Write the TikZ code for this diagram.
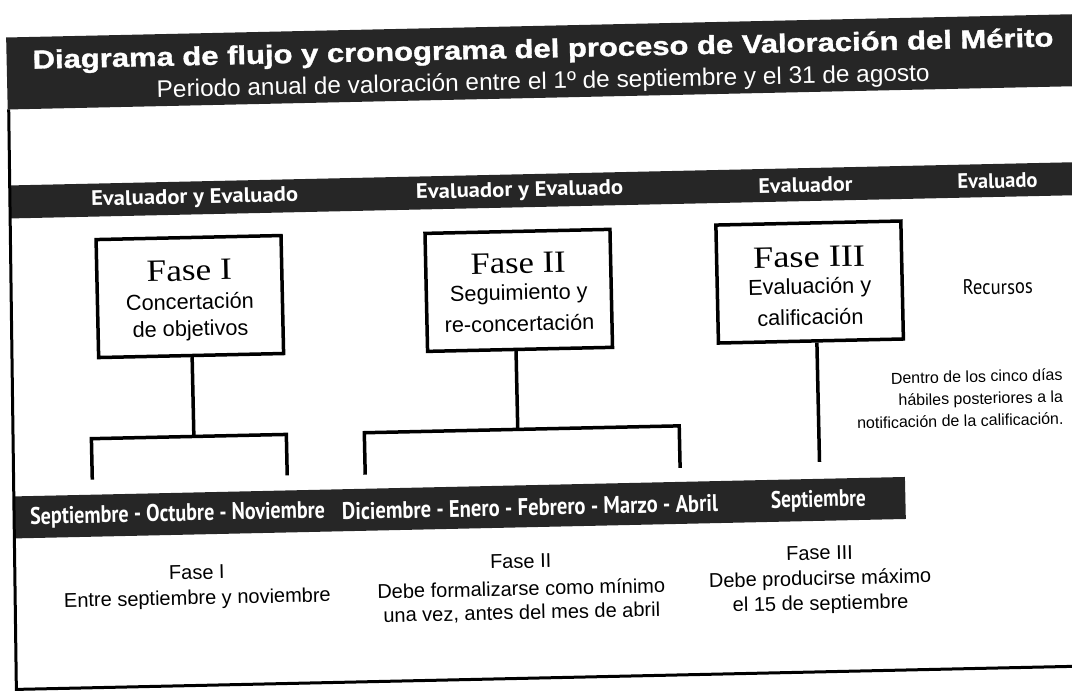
\documentclass[tikz,border=0pt]{standalone}
\usepackage{fontspec}
\usepackage{graphicx}
\newfontfamily\lsans{Liberation Sans}
\newfontfamily\titlefont[FakeBold=1.2]{Liberation Sans Bold}
\newfontfamily\lserif{Liberation Serif}
\newfontfamily\ptsans{PT Sans}
\newcommand{\fitto}[2]{\resizebox{#1}{\height}{#2}}
\definecolor{bandcol}{HTML}{262626}
\begin{document}
\begin{tikzpicture}[x=1pt,y=-1pt,
  bandfill/.style={fill=bandcol},
  roletext/.style={text=white, inner sep=0, font=\ptsans\bfseries\fontsize{21}{24}\selectfont},
  timetext/.style={text=white, inner sep=0, font=\ptsans\bfseries\fontsize{24}{28}\selectfont},
  phasebox/.style={draw=black, line width=3.5pt, minimum width=185pt, minimum height=118pt, inner sep=0},
  phasetitle/.style={inner sep=0, font=\lserif\fontsize{31}{36}\selectfont},
  phasesub/.style={inner sep=0, font=\lsans\fontsize{21.7}{26}\selectfont},
  conn/.style={line width=3.5pt},
  frameline/.style={line width=3pt},
  lowtext/.style={inner sep=0, font=\lsans\fontsize{20}{24}\selectfont},
]
\useasboundingbox (0,0) rectangle (1072,694);
\clip (0,0) rectangle (1072,694);
\begin{scope}[rotate around={1.25:(536,347)}, transform shape]
  % bands
  \fill[bandfill] (13,26) rectangle (1110,98);
  \fill[bandfill] (14,174) rectangle (1110,207);
  \fill[bandfill] (11,485) rectangle (902,527);
  % frame
  \draw[frameline] (14,98) -- (9,678) -- (1110,678);
  % title
  \node[text=white, inner sep=0, font=\titlefont\fontsize{26}{30}\selectfont] (title) at (549.5,51)
    {\fitto{1021pt}{Diagrama de flujo y cronograma del proceso de Valoración del Mérito}};
  \node[text=white, inner sep=0, font=\lsans\fontsize{24}{28}\selectfont] (subtitle) at (549,83)
    {\fitto{773pt}{Periodo anual de valoración entre el 1º de septiembre y el 31 de agosto}};
  % roles
  \node[roletext] (r1) at (198,191) {\fitto{207pt}{Evaluador y Evaluado}};
  \node[roletext] (r2) at (523,191) {\fitto{207pt}{Evaluador y Evaluado}};
  \node[roletext] (r3) at (809,191) {\fitto{94pt}{Evaluador}};
  \node[roletext] (r4) at (1001,191) {\fitto{80pt}{Evaluado}};
  % phase boxes
  \node[phasebox] (f1) at (191,289) {};
  \node[phasebox] (f2) at (520,290) {};
  \node[phasebox] (f3) at (811,288) {};
  \node[phasetitle] (f1a) at (191,263) {\fitto{85pt}{Fase I}};
  \node[phasesub]   (f1b) at (191,294) {Concertación};
  \node[phasesub]   (f1c) at (191,323) {de objetivos};
  \node[phasetitle] (f2a) at (520,263) {\fitto{95pt}{Fase II}};
  \node[phasesub]   (f2b) at (520,294) {Seguimiento y};
  \node[phasesub]   (f2c) at (520,323) {re-concertación};
  \node[phasetitle] (f3a) at (811,263) {\fitto{112pt}{Fase III}};
  \node[phasesub]   (f3b) at (811,294) {Evaluación y};
  \node[phasesub]   (f3c) at (811,323) {calificación};
  % right notes
  \node[inner sep=0, text=black, font=\ptsans\fontsize{21}{24}\selectfont] (rec) at (999,297) {\fitto{70pt}{Recursos}};
  \node[inner sep=0, anchor=east, align=right, font=\lsans\fontsize{16}{22}\selectfont] (plazo) at (1062,408)
    {Dentro de los cinco días\\hábiles posteriores a la\\notificación de la calificación.};
  % brackets
  \coordinate (j1) at (192,429);
  \coordinate (b1l) at (89.5,470);
  \coordinate (b1r) at (284.5,470);
  \coordinate (j2) at (516,429);
  \coordinate (b2l) at (362.5,471);
  \coordinate (b2r) at (677.5,471);
  \coordinate (e3) at (817,468);
  \draw[conn] (f1.south -| j1) -- (j1);
  \draw[conn] (b1l) |- (j1) -| (b1r);
  \draw[conn] (f2.south -| j2) -- (j2);
  \draw[conn] (b2l) |- (j2) -| (b2r);
  \draw[conn] (f3.south -| e3) -- (e3);
  % timeline
  \node[timetext] (t1) at (174,507) {\fitto{295pt}{Septiembre - Octubre - Noviembre}};
  \node[timetext] (t2) at (526.5,507) {\fitto{376pt}{Diciembre - Enero - Febrero - Marzo - Abril}};
  \node[timetext] (t3) at (815,507) {\fitto{95pt}{Septiembre}};
  % lower texts
  \node[lowtext] (l1a) at (192,565) {Fase I};
  \node[lowtext] (l1b) at (192,592) {Entre septiembre y noviembre};
  \node[lowtext] (l2a) at (516,561) {Fase II};
  \node[lowtext] (l2b) at (516,588) {Debe formalizarse como mínimo};
  \node[lowtext] (l2c) at (516,613) {una vez, antes del mes de abril};
  \node[lowtext] (l3a) at (815,559) {Fase III};
  \node[lowtext] (l3b) at (815,586) {Debe producirse máximo};
  \node[lowtext] (l3c) at (815,611) {el 15 de septiembre};
\end{scope}
\end{tikzpicture}
\end{document}
